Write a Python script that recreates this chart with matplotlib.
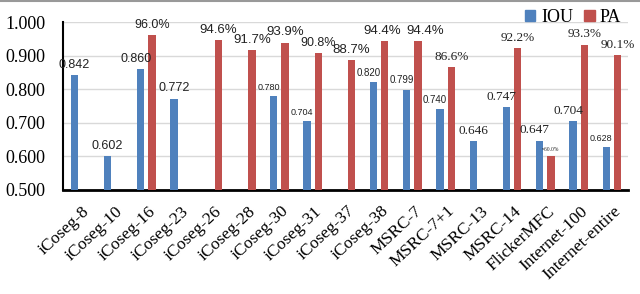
import matplotlib
matplotlib.use("Agg")
import matplotlib.pyplot as plt
import numpy as np
from matplotlib.patches import Rectangle
from matplotlib.lines import Line2D
import matplotlib.transforms as mtransforms

categories = ["iCoseg-8", "iCoseg-10", "iCoseg-16", "iCoseg-23", "iCoseg-26", "iCoseg-28",
              "iCoseg-30", "iCoseg-31", "iCoseg-37", "iCoseg-38", "MSRC-7", "MSRC-7+1",
              "MSRC-13", "MSRC-14", "FlickerMFC", "Internet-100", "Internet-entire"]
iou = [0.842, 0.602, 0.860, 0.772, None, None, 0.780, 0.704, None, 0.820, 0.799, 0.740,
       0.646, 0.747, 0.647, 0.704, 0.628]
pa = [None, None, 0.960, None, 0.946, 0.917, 0.939, 0.908, 0.887, 0.944, 0.944, 0.866,
      None, 0.922, 0.600, 0.933, 0.901]
iou_labels = ["0.842", "0.602", "0.860", "0.772", None, None, "0.780", "0.704", None, "0.820",
              "0.799", "0.740", "0.646", "0.747", "0.647", "0.704", "0.628"]
pa_labels = [None, None, "96.0%", None, "94.6%", "91.7%", "93.9%", "90.8%", "88.7%", "94.4%",
             "94.4%", "86.6%", None, "92.2%", "≈60.0%", "93.3%", "90.1%"]
yticks = [0.5, 0.6, 0.7, 0.8, 0.9, 1.0]

# label styles (font size, family, horizontal nudge in category units)
iou_fs = [9, 9, 9, 9, 0, 0, 6.5, 6.5, 0, 7, 7, 7, 9.5, 9.5, 9.5, 9.5, 6.5]
iou_ff = ["sans", "sans", "sans", "sans", "", "", "sans", "sans", "", "sans", "sans", "sans",
          "serif", "serif", "serif", "serif", "sans"]
pa_fs = [0, 0, 9, 0, 9.5, 9.5, 9.5, 9, 9.5, 9.5, 9.5, 9.5, 0, 9.5, 4, 9.5, 9.5]
pa_ff = ["", "", "sans", "", "sans", "sans", "sans", "sans", "sans", "sans", "sans", "serif",
         "", "serif", "serif", "serif", "serif"]
pa_dx = [0, 0, 0, 0, 0, 0, 0, 0, 0, -0.08, 0.2, 0, 0, 0, 0, 0, 0]

BLUE = "#4F81BD"
RED = "#C0504D"
SERIF = "Liberation Serif"
SANS = ["Liberation Sans Narrow", "Liberation Sans", "DejaVu Sans"]

fig = plt.figure(figsize=(6.4, 2.94), dpi=100)
ax = fig.add_axes([0.099, 0.354, 0.883, 0.571])

x = np.arange(len(categories))
w = 0.22
off = 0.17
for i in range(len(categories)):
    if iou[i] is not None:
        ax.bar(x[i] - off, iou[i] - 0.5, width=w, bottom=0.5, color=BLUE, zorder=3)
        fam = SERIF if iou_ff[i] == "serif" else SANS
        dx = -0.15 if pa[i] is not None else 0.0
        ax.annotate(iou_labels[i], (x[i] - off + dx, iou[i]), xytext=(0, 3),
                    textcoords="offset points", ha="center", va="bottom",
                    fontsize=iou_fs[i], family=fam, color="#222222", zorder=4)
    if pa[i] is not None:
        ax.bar(x[i] + off, pa[i] - 0.5, width=w, bottom=0.5, color=RED, zorder=3)
        fam = SERIF if pa_ff[i] == "serif" else SANS
        ax.annotate(pa_labels[i], (x[i] + off + pa_dx[i], pa[i]), xytext=(0, 3),
                    textcoords="offset points", ha="center", va="bottom",
                    fontsize=pa_fs[i], family=fam, color="#222222", zorder=4)

ax.set_xlim(-0.5, len(categories) - 0.5)
ax.set_ylim(0.5, 1.0)
ax.set_yticks(yticks)
ax.set_yticklabels([f"{t:.3f}" for t in yticks], family=SERIF, fontsize=13)
ax.yaxis.grid(True, color="#d9d9d9", linewidth=1, zorder=0)
ax.set_axisbelow(True)
ax.tick_params(axis="both", length=0)
ax.tick_params(axis="y", pad=13)
ax.set_xticks(x)
ax.set_xticklabels(categories, rotation=43, ha="right", rotation_mode="anchor",
                   family=SERIF, fontsize=12.5)
shift = mtransforms.ScaledTranslation(1 / 72, -6 / 72, fig.dpi_scale_trans)
for lbl in ax.get_xticklabels():
    lbl.set_transform(lbl.get_transform() + shift)

for s in ["top", "right"]:
    ax.spines[s].set_visible(False)
ax.spines["left"].set_linewidth(1.5)
ax.spines["bottom"].set_linewidth(2)

# legend
handles = [Rectangle((0, 0), 1, 1, color=BLUE), Rectangle((0, 0), 1, 1, color=RED)]
leg = fig.legend(handles, ["IOU", "PA"], loc="upper right", bbox_to_anchor=(0.985, 1.0),
                 ncol=2, frameon=False, prop={"family": SERIF, "size": 13},
                 handlelength=0.6, handleheight=0.6, handletextpad=0.3, columnspacing=0.6,
                 borderaxespad=0.1)

fig.add_artist(Line2D([0, 1], [0.997, 0.997], transform=fig.transFigure,
                      color="#999999", linewidth=1.5))

fig.savefig("out.png", dpi=100)
